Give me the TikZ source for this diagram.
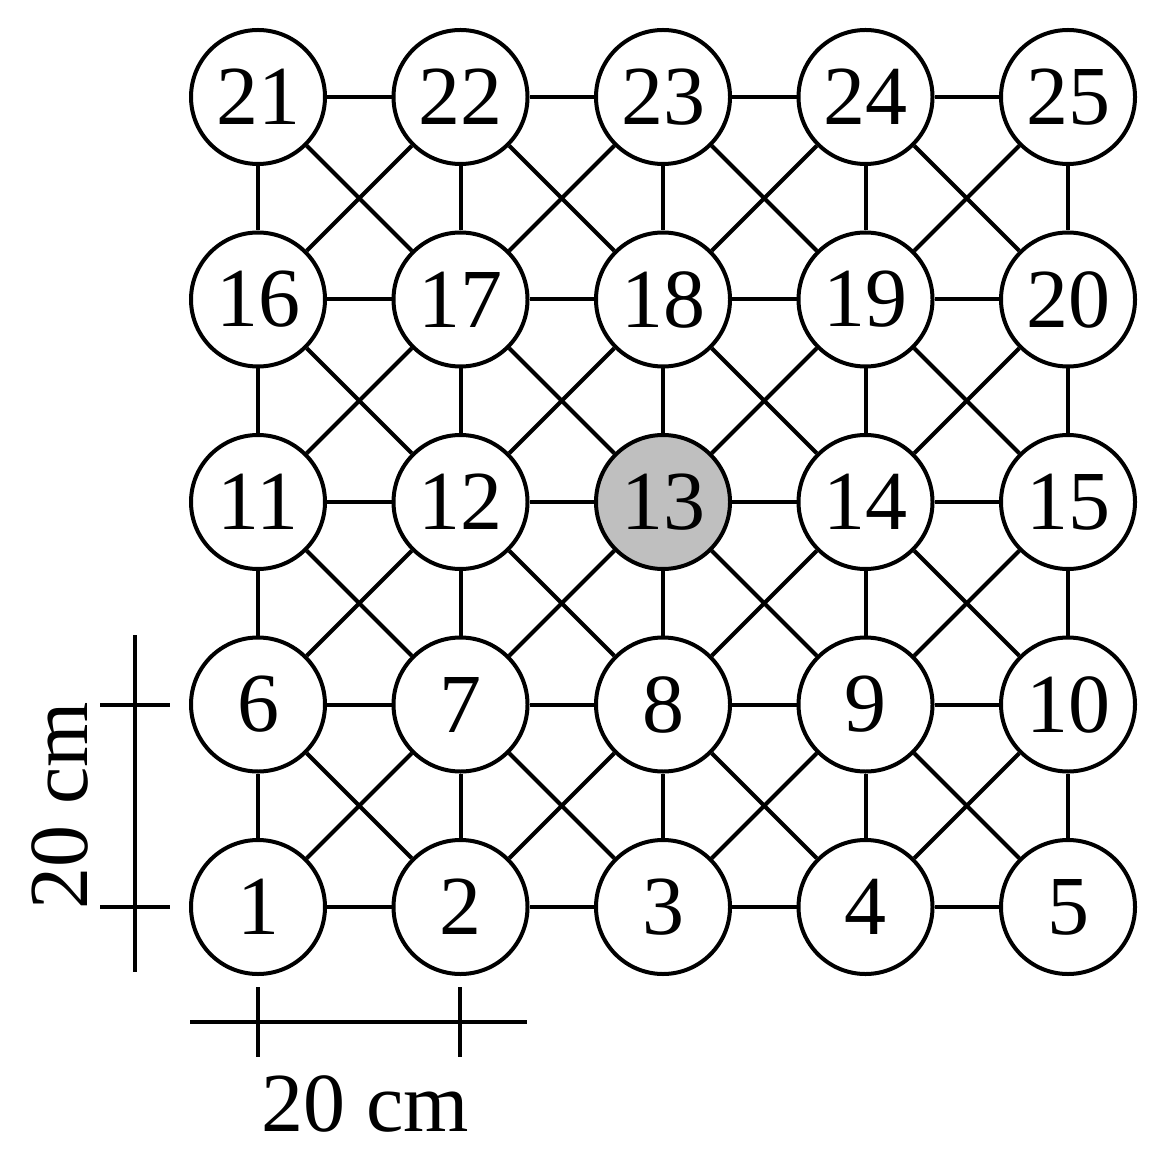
\documentclass[tikz,border=0pt]{standalone}
\usepackage{fontspec}
\setmainfont{Liberation Serif}
\begin{document}
\begin{tikzpicture}[x=0.5pt,y=-0.5pt,line width=2pt,
  cell/.style={circle,draw,fill=white,minimum size=67pt,inner sep=0pt,font=\fontsize{42}{50}\selectfont},
  hot/.style={cell,fill=gray!50},
  lbl/.style={font=\fontsize{42}{50}\selectfont,inner sep=0pt}]
\useasboundingbox (0,0) rectangle (1161,1165);
% nodes
\foreach \j in {0,...,4}{
  \foreach \i in {0,...,4}{
    \pgfmathtruncatemacro{\n}{5*\j+\i+1}
    \ifnum\n=13
      \node[hot] (n\n) at ({258+202.5*\i},{907-202.5*\j}) {\n};
    \else
      \node[cell] (n\n) at ({258+202.5*\i},{907-202.5*\j}) {\n};
    \fi
  }
}
% edges
\foreach \j in {0,...,4}{
  \foreach \i in {0,...,3}{
    \pgfmathtruncatemacro{\a}{5*\j+\i+1}
    \pgfmathtruncatemacro{\b}{\a+1}
    \draw (n\a) -- (n\b);
  }
}
\foreach \j in {0,...,3}{
  \foreach \i in {0,...,4}{
    \pgfmathtruncatemacro{\a}{5*\j+\i+1}
    \pgfmathtruncatemacro{\b}{\a+5}
    \draw (n\a) -- (n\b);
  }
}
\foreach \j in {0,...,3}{
  \foreach \i in {0,...,3}{
    \pgfmathtruncatemacro{\a}{5*\j+\i+1}
    \pgfmathtruncatemacro{\b}{\a+6}
    \pgfmathtruncatemacro{\c}{\a+1}
    \pgfmathtruncatemacro{\d}{\a+5}
    \draw (n\a) -- (n\b);
    \draw (n\c) -- (n\d);
  }
}
% scale bars
\coordinate (vt) at (135,635);
\coordinate (vb) at (135,972);
\draw (vt) -- (vb);
\coordinate (t1a) at (100,705); \coordinate (t1b) at (170,705);
\coordinate (t2a) at (100,907); \coordinate (t2b) at (170,907);
\draw (t1a) -- (t1b);
\draw (t2a) -- (t2b);
\coordinate (hl) at (190,1022);
\coordinate (hr) at (527,1022);
\draw (hl) -- (hr);
\coordinate (h1a) at (258,987); \coordinate (h1b) at (258,1057);
\coordinate (h2a) at (460,987); \coordinate (h2b) at (460,1057);
\draw (h1a) -- (h1b);
\draw (h2a) -- (h2b);
\node[lbl,rotate=90] (vlab) at (60,806) {20 cm};
\node[lbl] (hlab) at (365,1104) {20 cm};
\end{tikzpicture}
\end{document}
